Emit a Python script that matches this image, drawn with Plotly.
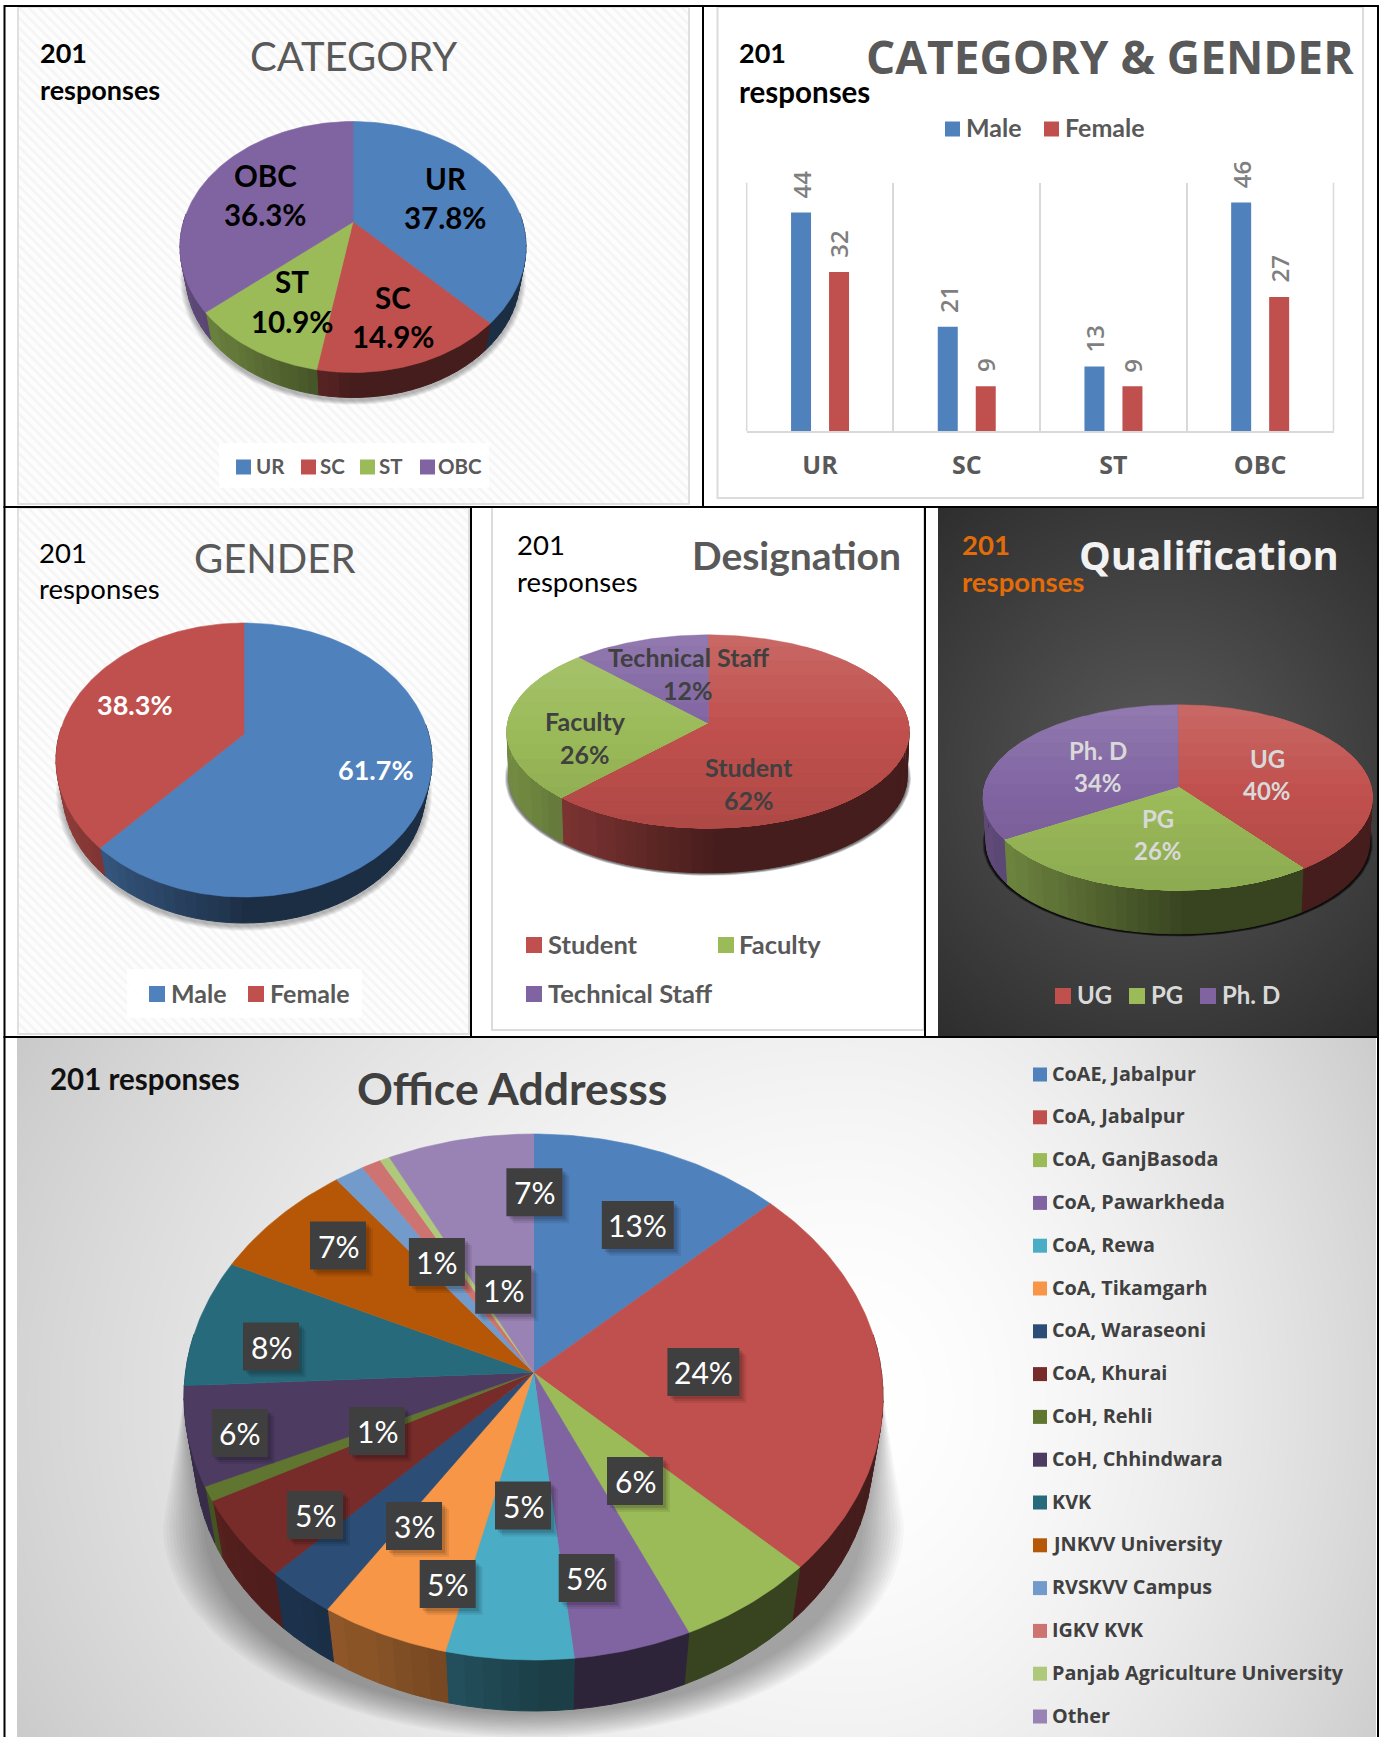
import math
import numpy as np
import plotly.graph_objects as go

W, H = 1384, 1737
FONT = "Lato"
WIDE = "Open Sans"

# ---------- data ----------
cat_names = ["UR", "SC", "ST", "OBC"]
cat_values = [37.8, 14.9, 10.9, 36.3]
cat_male = [44, 21, 13, 46]
cat_female = [32, 9, 9, 27]
gender_names = ["Male", "Female"]
gender_values = [61.7, 38.3]
desig_names = ["Student", "Faculty", "Technical Staff"]
desig_values = [62, 26, 12]
qual_names = ["UG", "PG", "Ph. D"]
qual_values = [40, 26, 34]
office_names = ["CoAE, Jabalpur", "CoA, Jabalpur", "CoA, GanjBasoda", "CoA, Pawarkheda", "CoA, Rewa",
                "CoA, Tikamgarh", "CoA, Waraseoni", "CoA, Khurai", "CoH, Rehli", "CoH, Chhindwara", "KVK",
                "JNKVV University", "RVSKVV Campus", "IGKV KVK", "Panjab Agriculture University", "Other"]
office_values = [12.9, 24.4, 6.0, 5.0, 5.4, 5.5, 3.0, 5.0, 0.9, 6.1, 7.9, 7.5, 1.5, 1.0, 0.5, 7.4]
office_labels = ["7%", "13%", "1%", "1%", "7%", "8%", "6%", "1%", "5%", "3%", "5%", "5%", "5%", "6%", "24%"]

BLUE, RED, GREEN, PURPLE = "#4f81bd", "#c0504d", "#9bbb59", "#8064a2"
office_colors = ["#4f81bd", "#c0504d", "#9bbb59", "#8064a2", "#4bacc6", "#f79646", "#2c4d75", "#772c2a",
                 "#5f7530", "#4d3b62", "#276a7c", "#b65708", "#729aca", "#cd7371", "#afc97a", "#9982b4"]

fig = go.Figure()
layout = dict(width=W, height=H, autosize=False, margin=dict(l=0, r=0, t=0, b=0),
              paper_bgcolor="white", plot_bgcolor="rgba(0,0,0,0)", showlegend=False,
              hovermode=False)
shapes, annos = [], []


def hex_rgb(c):
    return tuple(int(c[i:i + 2], 16) for i in (1, 3, 5))


def shade(c, f):
    r, g, b = hex_rgb(c)
    return f"rgb({r * f:.0f},{g * f:.0f},{b * f:.0f})"


def mix_white(c, a):
    r, g, b = hex_rgb(c)
    return f"rgb({r + (255 - r) * a:.0f},{g + (255 - g) * a:.0f},{b + (255 - b) * a:.0f})"


def rect(x0, y0, x1, y1, fill=None, line=None, lw=1):
    shapes.append(dict(type="rect", xref="paper", yref="paper", x0=x0 / W, x1=x1 / W, y0=1 - y0 / H, y1=1 - y1 / H,
                       fillcolor=fill or "rgba(0,0,0,0)", line=dict(color=line or "rgba(0,0,0,0)", width=lw if line else 0),
                       layer="above"))


def txt(text, x, y, size, color="#595959", bold=False, anchor="center", family=FONT, weight=None):
    if anchor == "left":
        x -= 2.5
    annos.append(dict(text=text, x=x / W, y=1 - (y - 1.5) / H, xref="paper", yref="paper", xanchor=anchor, yanchor="middle",
                      showarrow=False, font=dict(family=family, size=size, color=color,
                                                 weight=weight or (700 if bold else 400))))


def rim(frac, t):
    th = 2 * math.pi * frac
    u, v = math.sin(th), math.cos(th)
    den = 1 + t * v
    return u * math.sqrt(1 - t * t) / den, (v + t) / den


def fracs(a, b, step=1 / 360):
    n = max(2, int(math.ceil((b - a) / step)) + 1)
    return np.linspace(a, b, n)


def poly(ax, xs, ys, color, lw=0.6):
    fig.add_trace(go.Scatter(x=xs, y=ys, xaxis="x" + ax, yaxis="y" + ax, mode="lines", fill="toself",
                             fillcolor=color, line=dict(width=lw, color=color if lw else "rgba(0,0,0,0)"),
                             hoverinfo="skip"))


def clip_below(pts, lim):
    out = []
    for i in range(len(pts)):
        a, b = pts[i], pts[(i + 1) % len(pts)]
        ina, inb = a[1] <= lim, b[1] <= lim
        if ina:
            out.append(a)
        if ina != inb:
            s = (lim - a[1]) / (b[1] - a[1])
            out.append((a[0] + s * (b[0] - a[0]), lim))
    return out


def setup_axes(ax, panel, c):
    x0, y0, x1, y1 = panel
    layout["xaxis" + ax] = dict(domain=[x0 / W, x1 / W], range=[(x0 - c["cx"]) / c["rx"], (x1 - c["cx"]) / c["rx"]],
                                visible=False, fixedrange=True, anchor="y" + ax)
    layout["yaxis" + ax] = dict(domain=[1 - y1 / H, 1 - y0 / H], range=[(c["cy"] - y1) / c["ry"], (c["cy"] - y0) / c["ry"]],
                                visible=False, fixedrange=True, anchor="x" + ax)


def draw_pie(ax, values, colors, c, gradient=False):
    total = sum(values)
    t, bs = c["t"], c["bs"]
    dy = (c["depth"] + c["ry"] * (1 - bs)) / c["ry"]
    edges = [0]
    for v in values:
        edges.append(edges[-1] + v / total)
    # side wall, darker towards the right
    for i, col in enumerate(colors):
        groups = {}
        fs = fracs(edges[i], edges[i + 1], 1 / 120)
        for a, b in zip(fs[:-1], fs[1:]):
            pa, pb = rim(a, t), rim(b, t)
            if (pa[1] + pb[1]) / 2 > 0.25:
                continue
            xm = (pa[0] + pb[0]) / 2
            f = 0.37 if xm >= 0 else 0.37 + (-xm) * 0.38
            f = round(f * 50) / 50
            g = groups.setdefault(f, ([], []))
            g[0].extend([pa[0], pb[0], pb[0] * bs, pa[0] * bs, pa[0], None])
            g[1].extend([pa[1], pb[1], pb[1] * bs - dy, pa[1] * bs - dy, pa[1], None])
        for f, g in groups.items():
            poly(ax, g[0], g[1], shade(col, f), lw=1)
    # top face
    apex = (0.0, t)
    for i, col in enumerate(colors):
        pts = [apex] + [rim(a, t) for a in fracs(edges[i], edges[i + 1])]
        if not gradient:
            poly(ax, [p[0] for p in pts] + [pts[0][0]], [p[1] for p in pts] + [pts[0][1]], col)
        else:
            levels = np.linspace(1.02, -1.02, 15)
            for lim in levels:
                q = clip_below(pts, lim)
                if len(q) < 3:
                    continue
                if lim > 0.1:
                    fillc = mix_white(col, 0.13 * min(1, (lim - 0.1) / 0.9))
                else:
                    fillc = shade(col, 1 - 0.09 * min(1, (0.1 - lim) / 1.0))
                poly(ax, [p[0] for p in q] + [q[0][0]], [p[1] for p in q] + [q[0][1]], fillc, lw=0.4)


def soft_shadow(ax, c, off, grow, alpha, n=6):
    """Layered translucent ellipses under a pie."""
    th = np.linspace(0, 2 * math.pi, 181)
    dy = (c["depth"] + c["ry"] * (1 - c["bs"])) / c["ry"]
    for k in range(n):
        s = c["bs"] + grow * (1 - k / n)
        xs = list(s * np.sin(th))
        ys = list(s * np.cos(th) - dy - off / c["ry"])
        poly(ax, xs, ys, f"rgba(0,0,0,{alpha})", lw=0)


def hatch(ax, panel, c):
    x0, y0, x1, y1 = panel
    xs = [(x0 - c["cx"]) / c["rx"], (x1 - c["cx"]) / c["rx"]]
    ys = [(c["cy"] - y1) / c["ry"], (c["cy"] - y0) / c["ry"]]
    fig.add_trace(go.Scatter(x=[xs[0], xs[1], xs[1], xs[0], xs[0]], y=[ys[0], ys[0], ys[1], ys[1], ys[0]],
                             xaxis="x" + ax, yaxis="y" + ax, mode="lines", fill="toself", fillcolor="#fdfdfd",
                             fillpattern=dict(shape="\\", fgcolor="#eeeeee", bgcolor="#fdfdfd", size=7, solidity=0.4),
                             line=dict(width=0), hoverinfo="skip"))


def backdrop(ax, panel, c, centre, scale_l, scale_r, scale_y, g0, g1, power=1.0):
    x0, y0, x1, y1 = panel
    px = np.linspace(x0, x1, 70)
    py = np.linspace(y0, y1, 50)
    dx = (px - centre[0])
    ax_scale = np.where(dx < 0, scale_l, scale_r)
    X = (dx / ax_scale)[None, :]
    Y = ((py - centre[1]) / scale_y)[:, None]
    z = np.clip(np.sqrt(X ** 2 + Y ** 2), 0, 1.3) ** power
    fig.add_trace(go.Heatmap(x=(px - c["cx"]) / c["rx"], y=(c["cy"] - py) / c["ry"], z=z, zmin=0, zmax=1.3 ** power,
                             zsmooth="best", showscale=False, hoverinfo="skip", xaxis="x" + ax, yaxis="y" + ax,
                             colorscale=[[0, f"rgb({g0},{g0},{g0})"], [1, f"rgb({g1},{g1},{g1})"]]))


def legend_item(color, label, sx, sy, sw, tx, size, tcolor="#595959", bold=True, family=FONT, weight=None):
    rect(sx, sy - sw / 2, sx + sw, sy + sw / 2, fill=color)
    txt(label, tx, sy, size, tcolor, bold, "left", family, weight)


# ---------- pies ----------
c_cat = dict(cx=353, cy=247, rx=173, ry=125.5, t=0.2, depth=25, bs=0.965)
c_gen = dict(cx=244, cy=760, rx=188, ry=137, t=0.19, depth=26, bs=0.965)
c_des = dict(cx=708, cy=731.4, rx=201, ry=96.6, t=0.09, depth=44.8, bs=0.99)
c_qua = dict(cx=1177.8, cy=797.4, rx=194.5, ry=92.7, t=0.115, depth=43.7, bs=0.985)
c_off = dict(cx=533.5, cy=1397, rx=349.5, ry=263, t=0.093, depth=51, bs=0.97)

p_cat = (18, 7, 689, 504)
p_gen = (18, 508, 469, 1034)
p_des = (492, 507, 924, 1030)
p_qua = (938, 507, 1377, 1037)
p_off = (17, 1037, 1376, 1737)

setup_axes("2", p_cat, c_cat)
hatch("2", p_cat, c_cat)
soft_shadow("2", c_cat, 3, 0.035, 0.05)
draw_pie("2", cat_values, [BLUE, RED, GREEN, PURPLE], c_cat)

setup_axes("3", p_gen, c_gen)
hatch("3", p_gen, c_gen)
soft_shadow("3", c_gen, 3, 0.035, 0.05)
draw_pie("3", gender_values, [BLUE, RED], c_gen)

setup_axes("4", p_des, c_des)
soft_shadow("4", c_des, 1, 0.02, 0.14, n=5)
draw_pie("4", desig_values, [RED, GREEN, PURPLE], c_des, gradient=True)

setup_axes("5", p_qua, c_qua)
backdrop("5", p_qua, c_qua, (1158, 770), 310, 310, 310, 90, 38)
soft_shadow("5", c_qua, 1, 0.018, 0.3, n=5)
draw_pie("5", qual_values, [RED, GREEN, PURPLE], c_qua, gradient=True)

setup_axes("6", p_off, c_off)
backdrop("6", p_off, c_off, (850, 1400), 940, 620, 760, 255, 172, power=1.7)
# broad soft shadow falling below the big pie
for k in range(14):
    s = 1.06 - k * 0.009
    th = np.linspace(math.pi / 2, 3 * math.pi / 2, 91)
    xs = [1.0] + list(s * np.sin(th)) + [-1.0, 1.0]
    ys = [0.0] + list(s * 0.76 * np.cos(th) - 0.49) + [0.0, 0.0]
    poly("6", xs, ys, "rgba(0,0,0,0.026)", lw=0)
draw_pie("6", office_values, office_colors, c_off)

# ---------- bar chart ----------
layout["xaxis"] = dict(domain=[746.7 / W, 1333.5 / W], type="category", categoryorder="array", categoryarray=cat_names,
                       tickson="boundaries", showgrid=True, gridcolor="#d9d9d9", gridwidth=1.5, showline=True,
                       linecolor="#d9d9d9", linewidth=2, ticks="", ticklabelstandoff=11,
                       tickfont=dict(family=WIDE, size=25, color="#595959", weight=700), zeroline=False,
                       fixedrange=True, anchor="y")
layout["yaxis"] = dict(domain=[1 - 431 / H, 1 - 182.7 / H], range=[0, 50], visible=False, fixedrange=True, anchor="x")
layout["bargap"] = 0.482
layout["bargroupgap"] = 0.474
layout["barmode"] = "group"
fig.add_trace(go.Bar(x=cat_names, y=cat_male, marker=dict(color=BLUE, line=dict(width=0)), name="Male", hoverinfo="skip"))
fig.add_trace(go.Bar(x=cat_names, y=cat_female, marker=dict(color=RED, line=dict(width=0)), name="Female", hoverinfo="skip"))
for cat, m, f in zip(cat_names, cat_male, cat_female):
    for val, shift in ((m, -19), (f, 19)):
        annos.append(dict(text=str(val), x=cat, y=val, xref="x", yref="y", xshift=shift, yshift=12, textangle=-90,
                          showarrow=False, xanchor="center", yanchor="bottom",
                          font=dict(family=WIDE, size=24, color="#7f7f7f", weight=600)))
for gx in (746.7, 1333.5):
    rect(gx, 182.7, gx, 431, line="#d9d9d9", lw=1.5)

# ---------- frames ----------
rect(18, 7, 689, 504, line="#e0e0e0", lw=2)
rect(717.5, 7, 1363, 498, line="#dcdcdc", lw=2)
rect(18, 508, 469, 1034, line="#e0e0e0", lw=2)
rect(492, 507, 924, 1030, line="#dcdcdc", lw=2)
for b in [(4.5, 6, 703, 507), (703, 6, 1378, 507), (4.5, 507, 471, 1037), (471, 507, 925, 1037), (925, 507, 1378, 1037),
          (4.5, 1037, 1378, 1760)]:
    rect(*b, line="#000000", lw=2)

# ---------- titles ----------
BK = "#000000"
txt("201", 40, 54, 27, BK, True, "left")
txt("responses", 40, 91, 27, BK, True, "left")
txt("CATEGORY", 353.5, 58, 40)
txt("201", 739, 54, 27, BK, True, "left")
txt("responses", 739, 93, 29.5, BK, True, "left")
txt("CATEGORY & GENDER", 1110, 58, 46, "#595959", True, family=WIDE)
txt("201", 39, 554, 27.5, BK, False, "left")
txt("responses", 39, 590, 27.5, BK, False, "left")
txt("GENDER", 274, 559, 40)
txt("201", 517.5, 546, 27.5, BK, False, "left")
txt("responses", 517.5, 583, 27.5, BK, False, "left")
txt("Designation", 796.7, 556, 39, "#595959", True)
txt("201", 962, 546, 27.5, "#e36c09", True, "left")
txt("responses", 962, 583, 27.5, "#e36c09", True, "left")
txt("Qualification", 1209, 556, 40, "#f2f2f2", True, family=WIDE)
txt("201 responses", 50, 1080, 29.5, "#111111", True, "left")
txt("Office Addresss", 512, 1089, 44.5, "#404040", True)

# ---------- slice labels ----------
for a, x, y in [("UR", 445.5, 180), ("37.8%", 445.5, 219), ("SC", 393, 299), ("14.9%", 393, 338),
                ("ST", 292, 283), ("10.9%", 292, 323), ("OBC", 265, 177), ("36.3%", 265, 216)]:
    txt(a, x, y, 29.5, BK, True)
txt("38.3%", 135, 706, 27, "#ffffff", True)
txt("61.7%", 376, 771, 27, "#ffffff", True)
for a, x, y in [("Technical Staff", 688, 658), ("12%", 688, 691), ("Faculty", 585, 722), ("26%", 585, 755),
                ("Student", 749, 769), ("62%", 749, 802)]:
    txt(a, x, y, 25, "#404040", True)
for a, x, y in [("UG", 1267, 760), ("40%", 1267, 792), ("PG", 1158, 820), ("26%", 1158, 852),
                ("Ph. D", 1098, 752), ("34%", 1098, 784)]:
    txt(a, x, y, 24, "#d9d9d9", True)

office_label_pos = [(534.4, 1192.3), (637.8, 1225), (436.9, 1262), (503.2, 1289.7), (338, 1245.5), (271, 1346.5),
                    (239.8, 1433), (377, 1431), (315, 1515), (414, 1526), (447.7, 1584), (523, 1505.6),
                    (586.7, 1578), (635, 1481), (703.4, 1372)]
for lab, (x, y) in zip(office_labels, office_label_pos):
    w = 72 if len(lab) == 3 else 56
    for off, a in ((7, 0.07), (5, 0.09), (3, 0.12)):
        rect(x - w / 2 + off, y - 24 + off, x + w / 2 + off, y + 24 + off, fill=f"rgba(0,0,0,{a})")
    rect(x - w / 2, y - 24, x + w / 2, y + 24, fill="#3f3f3f")
    txt(lab, x, y + 1.5, 30, "#ffffff")

# ---------- legends ----------
rect(219, 443, 489, 488, fill="rgba(255,255,255,0.9)")
for (name, col, sx, tx) in zip(cat_names, [BLUE, RED, GREEN, PURPLE], [236, 301, 360, 420], [256, 320, 379, 438]):
    legend_item(col, name, sx, 467, 15, tx, 20.5)
for (name, col, sx, tx) in zip(gender_names, [BLUE, RED], [945, 1044], [967, 1065.6]):
    legend_item(col, name, sx, 129, 15, tx, 25)
rect(127, 969, 362, 1018, fill="rgba(255,255,255,0.9)")
for (name, col, sx, tx) in zip(gender_names, [BLUE, RED], [149, 248], [171, 270]):
    legend_item(col, name, sx, 994, 16, tx, 25)
for (name, col, sx, sy, tx) in zip(desig_names, [RED, GREEN, PURPLE], [526, 718, 526], [945, 945, 994], [548, 739, 548]):
    legend_item(col, name, sx, sy, 16, tx, 25.5)
for (name, col, sx, tx) in zip(qual_names, [RED, GREEN, PURPLE], [1055, 1129, 1200], [1077, 1151, 1222]):
    legend_item(col, name, sx, 996, 16, tx, 24, tcolor="#d9d9d9")
for i, (name, col) in enumerate(zip(office_names, office_colors)):
    legend_item(col, name, 1033, 1074.5 + i * 42.8, 14, 1052.7, 19.8, tcolor="#404040", family=WIDE, weight=700)

layout["shapes"] = shapes
layout["annotations"] = annos
fig.update_layout(**layout)
fig.write_html("out.html", config={"displayModeBar": False},
               post_script="document.body.style.margin='0';document.documentElement.style.overflow='hidden';")
